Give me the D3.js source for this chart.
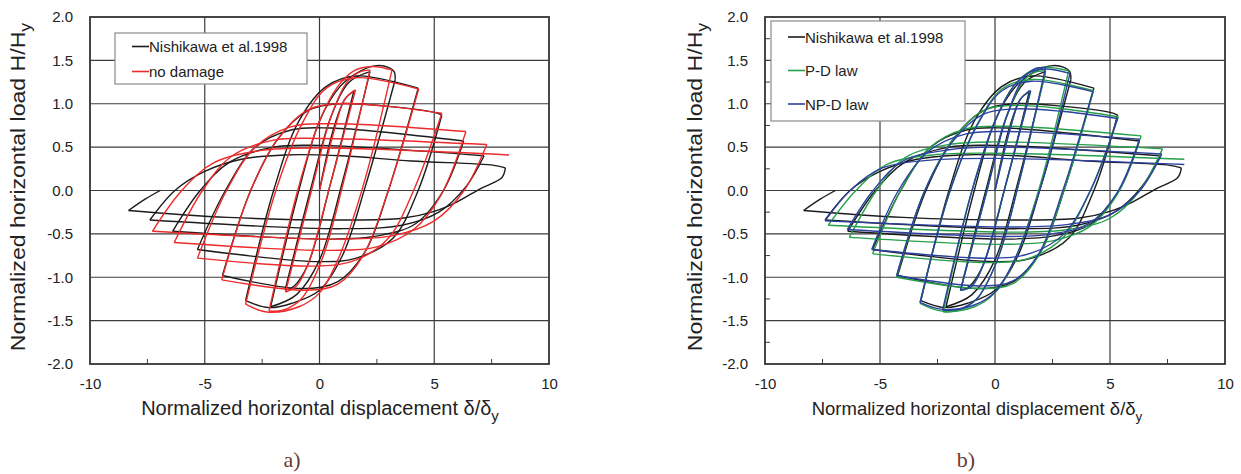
<!DOCTYPE html>
<html>
<head>
<meta charset="utf-8">
<script src="https://cdnjs.cloudflare.com/ajax/libs/d3/7.8.5/d3.min.js"></script>
<style>
  body { margin: 0; background: #fff; }
  svg { font-family: "Liberation Sans", Arial, sans-serif; }
</style>
</head>
<body>
<script>
// ---- data ----
let xTicks = [-10, -5, 0, 5, 10];
let xMinor = [-7.5, -2.5, 2.5, 7.5];
let yTicks = [-2.0, -1.5, -1.0, -0.5, 0.0, 0.5, 1.0, 1.5, 2.0];
let yMinor = [-1.75, -1.25, -0.75, -0.25, 0.25, 0.75, 1.25, 1.75];

// each loop array = list of branches (tip to tip), points [delta/delta_y, H/H_y]
let blackLoops = [
  [[0,0],[0.6,0.7],[1.1,1.05],[1.5,1.15]],
  [[1.5,1.15],[0.5,0.1],[-0.5,-0.85],[-1.1,-1.1],[-1.5,-1.15]],
  [[-1.5,-1.15],[-0.4,0],[0.5,0.85],[1.3,1.25],[2.2,1.37]],
  [[2.2,1.37],[1.0,0.1],[0,-0.8],[-1.0,-1.2],[-2.13,-1.34]],
  [[-2.13,-1.34],[-0.9,0],[0,0.8],[0.9,1.2],[1.8,1.38],[2.5,1.44],[3.0,1.42],[3.25,1.37],[3.3,1.28]],
  [[3.3,1.28],[2.0,0.05],[1.0,-0.75],[0,-1.15],[-1.2,-1.3],[-2.2,-1.35],[-3.22,-1.27]],
  [[-3.22,-1.27],[-2.0,0],[-0.9,0.8],[0.3,1.2],[1.6,1.32],[4.3,1.18]],
  [[4.3,1.18],[3.0,0.0],[2.0,-0.7],[0.8,-1.05],[-0.8,-1.13],[-4.23,-0.98]],
  [[-4.23,-0.98],[-3.0,0],[-1.8,0.6],[-0.5,0.92],[0.8,1.0],[3.0,0.97],[5.0,0.9],[5.33,0.87]],
  [[5.33,0.87],[4.3,0.0],[3.2,-0.55],[1.6,-0.78],[0,-0.82],[-5.32,-0.68]],
  [[-5.32,-0.68],[-4.1,0],[-2.8,0.5],[-1.2,0.7],[0.5,0.72],[6.28,0.57]],
  [[6.28,0.57],[5.4,0.0],[4.2,-0.38],[2.6,-0.52],[0.5,-0.56],[-6.4,-0.47]],
  [[-6.4,-0.47],[-5.2,0],[-3.9,0.33],[-2.0,0.5],[0,0.52],[7.17,0.40]],
  [[7.17,0.40],[6.4,0.05],[5.2,-0.25],[3.6,-0.4],[1,-0.44],[-7.39,-0.34]],
  [[-7.39,-0.34],[-6.3,0],[-5.0,0.22],[-3.4,0.36],[-1.5,0.41],[1,0.4],[4,0.34],[7.6,0.29],[8.1,0.26]],
  [[8.1,0.26],[7.95,0.15],[7.0,0.02],[6.0,-0.13],[5.0,-0.24],[3.6,-0.32],[1,-0.34],[-4,-0.31],[-8.32,-0.23]],
  [[-8.32,-0.23],[-7.6,-0.1],[-6.94,0]]
];

let redLoops = [
  [[0,0],[0.7,0.75],[1.1,1.05],[1.57,1.16]],
  [[1.57,1.16],[0.45,0.05],[-0.5,-0.85],[-1.0,-1.1],[-1.48,-1.17]],
  [[-1.48,-1.17],[-0.35,0],[0.5,0.85],[1.2,1.25],[1.7,1.36],[2.2,1.39]],
  [[2.2,1.39],[1.05,0.1],[0.1,-0.8],[-0.8,-1.25],[-1.6,-1.38],[-2.2,-1.39]],
  [[-2.2,-1.39],[-0.95,0],[0,0.8],[0.8,1.2],[1.5,1.38],[2.3,1.43],[3.16,1.39]],
  [[3.16,1.39],[1.9,0.05],[0.8,-0.8],[0,-1.18],[-0.9,-1.34],[-2.3,-1.40],[-3.22,-1.31]],
  [[-3.22,-1.31],[-1.9,0],[-0.8,0.75],[0.3,1.18],[1.6,1.3],[4.32,1.17]],
  [[4.32,1.17],[3.0,0],[1.9,-0.75],[0.8,-1.08],[-0.6,-1.15],[-4.26,-1.03]],
  [[-4.26,-1.03],[-3.0,0],[-1.8,0.6],[-0.5,0.93],[0.8,1.0],[3.0,0.97],[5.33,0.89]],
  [[5.33,0.89],[4.1,0],[3.0,-0.55],[1.6,-0.8],[0,-0.87],[-5.32,-0.78]],
  [[-5.32,-0.78],[-4.05,0],[-2.8,0.5],[-1.3,0.73],[0.5,0.77],[6.38,0.68]],
  [[6.38,0.68],[5.3,-0.05],[4.1,-0.45],[2.5,-0.65],[0.5,-0.69],[-6.33,-0.6]],
  [[-6.33,-0.6],[-5.1,0],[-3.8,0.4],[-2.0,0.58],[0,0.6],[7.29,0.53]],
  [[7.29,0.53],[6.3,0],[5.0,-0.35],[3.2,-0.52],[1,-0.56],[-7.28,-0.47]],
  [[-7.28,-0.47],[-6.0,0],[-4.6,0.32],[-2.6,0.46],[0,0.49],[8.26,0.41]]
];

let greenLoops = [
  [[0,0],[0.7,0.75],[1.1,1.05],[1.55,1.15]],
  [[1.55,1.15],[0.45,0.05],[-0.5,-0.85],[-1.0,-1.1],[-1.5,-1.15]],
  [[-1.5,-1.15],[-0.35,0],[0.5,0.85],[1.2,1.25],[1.7,1.36],[2.2,1.38]],
  [[2.2,1.38],[1.05,0.1],[0.1,-0.8],[-0.8,-1.25],[-1.6,-1.38],[-2.25,-1.40]],
  [[-2.25,-1.40],[-1.0,0],[0,0.8],[0.8,1.2],[1.5,1.37],[2.2,1.42],[3.2,1.38]],
  [[3.2,1.38],[1.95,0.05],[0.85,-0.8],[0,-1.18],[-0.9,-1.34],[-2.3,-1.39],[-3.26,-1.30]],
  [[-3.26,-1.30],[-1.95,0],[-0.8,0.75],[0.3,1.17],[1.6,1.28],[4.28,1.15]],
  [[4.28,1.15],[3.0,0],[1.9,-0.75],[0.8,-1.07],[-0.6,-1.13],[-4.28,-1.0]],
  [[-4.28,-1.0],[-3.05,0],[-1.8,0.6],[-0.5,0.92],[0.8,0.98],[3.0,0.94],[5.36,0.85]],
  [[5.36,0.85],[4.15,0],[3.0,-0.53],[1.6,-0.77],[0,-0.83],[-5.32,-0.73]],
  [[-5.32,-0.73],[-4.1,0],[-2.8,0.5],[-1.3,0.71],[0.5,0.74],[6.35,0.63]],
  [[6.35,0.63],[5.3,-0.05],[4.1,-0.42],[2.5,-0.58],[0.5,-0.62],[-6.33,-0.54]],
  [[-6.33,-0.54],[-5.15,0],[-3.9,0.38],[-2.0,0.53],[0,0.56],[7.28,0.48]],
  [[7.28,0.48],[6.3,0],[5.0,-0.32],[3.2,-0.45],[1,-0.48],[-7.25,-0.40]],
  [[-7.25,-0.40],[-6.05,0],[-4.7,0.3],[-2.7,0.41],[0,0.43],[8.23,0.36]]
];

let blueLoops = [
  [[0,0],[0.7,0.75],[1.1,1.05],[1.55,1.15]],
  [[1.55,1.15],[0.45,0.05],[-0.5,-0.85],[-1.0,-1.1],[-1.5,-1.15]],
  [[-1.5,-1.15],[-0.35,0],[0.5,0.85],[1.2,1.28],[1.7,1.4],[2.2,1.42]],
  [[2.2,1.42],[1.05,0.1],[0.1,-0.8],[-0.8,-1.25],[-1.6,-1.37],[-2.28,-1.38]],
  [[-2.28,-1.38],[-1.0,0],[0,0.8],[0.8,1.2],[1.5,1.36],[2.2,1.4],[3.26,1.35]],
  [[3.26,1.35],[2.0,0.05],[0.85,-0.8],[0,-1.17],[-0.9,-1.32],[-2.3,-1.37],[-3.26,-1.29]],
  [[-3.26,-1.29],[-1.95,0],[-0.8,0.74],[0.3,1.15],[1.6,1.26],[4.25,1.14]],
  [[4.25,1.14],[2.95,0],[1.9,-0.73],[0.8,-1.04],[-0.6,-1.1],[-4.28,-0.98]],
  [[-4.28,-0.98],[-3.05,0],[-1.8,0.58],[-0.5,0.88],[0.8,0.94],[3.0,0.91],[5.33,0.83]],
  [[5.33,0.83],[4.15,0],[3.0,-0.5],[1.6,-0.72],[0,-0.78],[-5.36,-0.68]],
  [[-5.36,-0.68],[-4.2,0],[-2.9,0.45],[-1.3,0.65],[0.5,0.68],[6.28,0.59]],
  [[6.28,0.59],[5.3,-0.03],[4.1,-0.38],[2.5,-0.5],[0.5,-0.53],[-6.42,-0.45]],
  [[-6.42,-0.45],[-5.3,0],[-4.0,0.34],[-2.0,0.47],[0,0.5],[7.25,0.42]],
  [[7.25,0.42],[6.3,0],[5.0,-0.28],[3.2,-0.39],[1,-0.42],[-7.39,-0.35]],
  [[-7.39,-0.35],[-6.3,0],[-4.9,0.26],[-2.8,0.35],[0,0.37],[8.23,0.30]]
];

let seriesNames = ['Nishikawa et al.1998', 'no damage', 'P-D law', 'NP-D law'];
let captions = ['a)', 'b)'];

// ---- layout ----
let width = 1241;
let height = 474;
let plotTop = 17, plotBottom = 364;
let colors = { black: '#1c1c1c', red: '#ee2a2a', green: '#25a04a', blue: '#2c40a0' };

let svg = d3.select('body')
            .append('svg')
            .attr('width', width)
            .attr('height', height);

let line = d3.line().curve(d3.curveCatmullRom.alpha(0.5));

let genPanel = (opt) => {
    let xScale = d3.scaleLinear().domain([-10, 10]).range([opt.left, opt.right]);
    let yScale = d3.scaleLinear().domain([-2, 2]).range([plotBottom, plotTop]);
    let g = svg.append('g');

    // grid
    g.selectAll('.vgrid')
        .data(xTicks.slice(1, -1))
        .enter()
        .append('line')
        .attr('x1', d => xScale(d)).attr('x2', d => xScale(d))
        .attr('y1', plotTop).attr('y2', plotBottom)
        .attr('stroke', '#3c3c3c').attr('stroke-width', 1.2);
    g.selectAll('.hgrid')
        .data(yTicks.slice(1, -1))
        .enter()
        .append('line')
        .attr('x1', opt.left).attr('x2', opt.right)
        .attr('y1', d => yScale(d)).attr('y2', d => yScale(d))
        .attr('stroke', '#3c3c3c').attr('stroke-width', 1.2);

    // minor ticks
    g.selectAll('.xminor')
        .data(xMinor)
        .enter()
        .append('line')
        .attr('x1', d => xScale(d)).attr('x2', d => xScale(d))
        .attr('y1', plotBottom).attr('y2', plotBottom - 5)
        .attr('stroke', '#3c3c3c');
    if (opt.yMinor) {
        g.selectAll('.yminor')
            .data(yMinor)
            .enter()
            .append('line')
            .attr('x1', opt.left).attr('x2', opt.left + 5)
            .attr('y1', d => yScale(d)).attr('y2', d => yScale(d))
            .attr('stroke', '#3c3c3c');
    }

    // curves
    opt.series.forEach(s => {
        g.append('g')
            .selectAll('path')
            .data(s.loops)
            .enter()
            .append('path')
            .attr('d', d => line(d.map(p => [xScale(p[0]), yScale(p[1])])))
            .attr('fill', 'none')
            .attr('stroke', s.color)
            .attr('stroke-width', 1.4)
            .attr('stroke-linejoin', 'round');
    });

    // frame
    g.append('rect')
        .attr('x', opt.left).attr('y', plotTop)
        .attr('width', opt.right - opt.left).attr('height', plotBottom - plotTop)
        .attr('fill', 'none').attr('stroke', '#333').attr('stroke-width', 1.8);

    // axes
    let xAxis = d3.axisBottom(xScale).tickValues(xTicks).tickSize(0).tickPadding(14)
                  .tickFormat(d => d);
    g.append('g')
        .attr('transform', 'translate(0,' + plotBottom + ')')
        .call(xAxis)
        .call(a => a.select('.domain').remove())
        .selectAll('text').style('font-size', '15px').attr('fill', '#222');

    let yAxis = d3.axisLeft(yScale).tickValues(yTicks).tickSize(0).tickPadding(17)
                  .tickFormat(d => d.toFixed(1));
    g.append('g')
        .attr('transform', 'translate(' + opt.left + ',0)')
        .call(yAxis)
        .call(a => a.select('.domain').remove())
        .selectAll('text').style('font-size', '15px').attr('fill', '#222');

    // axis titles
    let xt = g.append('text')
        .attr('x', opt.xTitleX).attr('y', 415)
        .attr('text-anchor', 'middle')
        .style('font-size', opt.xTitleSize + 'px').attr('fill', '#222')
        .text('Normalized horizontal displacement δ/δ');
    xt.append('tspan').attr('dy', 6).style('font-size', (opt.xTitleSize - 5) + 'px').text('y');

    // the printed y title is stretched along its length
    let yt = g.append('text')
        .attr('transform', 'translate(' + opt.yTitleX + ',' + 187 + ') rotate(-90) scale(1.1,1)')
        .attr('text-anchor', 'middle')
        .style('font-size', '21px').attr('fill', '#222')
        .text('Normalized horizontal load H/H');
    yt.append('tspan').attr('dy', 6).style('font-size', '16px').text('y');

    // legend
    let lg = opt.legend;
    g.append('rect')
        .attr('x', lg.x).attr('y', lg.y).attr('width', lg.w).attr('height', lg.h)
        .attr('fill', '#fff').attr('stroke', '#8a8a8a').attr('stroke-width', 1.2);
    opt.series.forEach((s, i) => {
        let yy = lg.y + lg.first + i * lg.step;
        g.append('line')
            .attr('x1', lg.x + 17).attr('x2', lg.x + 34)
            .attr('y1', yy).attr('y2', yy)
            .attr('stroke', s.color).attr('stroke-width', 1.6);
        g.append('text')
            .attr('x', lg.x + 34).attr('y', yy + 5.5)
            .style('font-size', '15px').attr('fill', '#222')
            .text(s.name);
    });

    // caption
    g.append('text')
        .attr('x', opt.capX).attr('y', 467)
        .attr('text-anchor', 'middle')
        .style('font-family', '"Liberation Serif", "DejaVu Serif", serif')
        .style('font-size', '22px').attr('fill', '#6b3a30')
        .text(opt.caption);
}

genPanel({
    left: 90, right: 549, yMinor: false,
    xTitleX: 320, yTitleX: 25, xTitleSize: 20, capX: 292, caption: captions[0],
    legend: { x: 115, y: 33, w: 192, h: 51, first: 13.5, step: 25 },
    series: [
        { name: seriesNames[0], loops: blackLoops, color: colors.black },
        { name: seriesNames[1], loops: redLoops, color: colors.red }
    ]
});

genPanel({
    left: 765, right: 1225, yMinor: true,
    xTitleX: 977, yTitleX: 702, xTitleSize: 18.5, capX: 966, caption: captions[1],
    legend: { x: 771, y: 21, w: 194, h: 100, first: 16, step: 33.5 },
    series: [
        { name: seriesNames[0], loops: blackLoops, color: colors.black },
        { name: seriesNames[2], loops: greenLoops, color: colors.green },
        { name: seriesNames[3], loops: blueLoops, color: colors.blue }
    ]
});
</script>
</body>
</html>
